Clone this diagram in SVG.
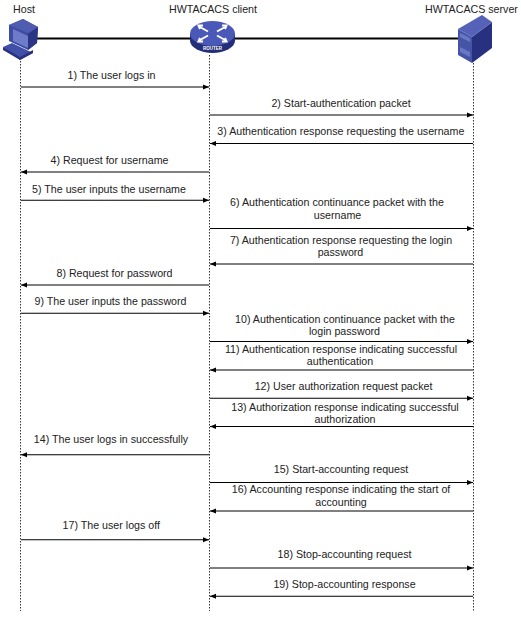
<svg xmlns="http://www.w3.org/2000/svg" width="521" height="617" viewBox="0 0 521 617">
<style>
text{font-family:"Liberation Sans",Arial,sans-serif;font-size:10.67px;fill:#222;text-anchor:middle}
.life{stroke:#333;stroke-width:1;stroke-dasharray:1.500 1.500;fill:none}
.msg{stroke:#000;stroke-width:1;fill:none;marker-end:url(#a)}
</style>
<defs><marker id="a" markerUnits="userSpaceOnUse" markerWidth="7" markerHeight="6" refX="6" refY="3" orient="auto"><path d="M0 .5L6 3L0 5.500Z" fill="#000"/></marker></defs>
<rect width="521" height="617" fill="#fff"/>
<g id="connectors">
<path d="M30 38.500H470" stroke="#000" stroke-width="2" fill="none"/>
<path class="life" d="M20.500 58V611M209.500 55V611M473.500 63V611"/>
<path class="msg" d="M21 87H209"/><path class="msg" d="M210 115H473"/><path class="msg" d="M473 143.500H210"/><path class="msg" d="M209 172H21"/><path class="msg" d="M21 200.250H209"/><path class="msg" d="M210 228.500H473"/><path class="msg" d="M473 264H210"/><path class="msg" d="M209 285H21"/><path class="msg" d="M21 313.250H209"/><path class="msg" d="M210 341.500H473"/><path class="msg" d="M473 370H210"/><path class="msg" d="M210 398.250H473"/><path class="msg" d="M473 426.500H210"/><path class="msg" d="M209 454.750H21"/><path class="msg" d="M210 482.500H473"/><path class="msg" d="M473 511H210"/><path class="msg" d="M21 539.750H209"/><path class="msg" d="M210 568H473"/><path class="msg" d="M473 596.250H210"/>
</g>
<g id="host"><text x="24" y="13">Host</text>
<path d="M9 25L23 19L38 27L37 43L28 50L9 41Z" fill="#3e4da3"/><path d="M9 25L23 19L38 27L28 33Z" fill="#4f5cb0"/><path d="M13 29L28 36V48L13 41Z" fill="#6d7cc8"/><path d="M28 34L38 27L37 43L28 50Z" fill="#2a3585"/><path d="M3 47L12 43L33 53L20 60Z" fill="#4050a8"/><path d="M3 47L20 57L33 50V53L20 60L3 50Z" fill="#28327f"/></g>
<g id="client"><text x="213" y="13">HWTACACS client</text>
<path d="M190 33.500V40.500A22.500 12.500 0 0 0 235 40.500V33.500Z" fill="#232d78"/><ellipse cx="212.500" cy="33.500" rx="22.500" ry="12.500" fill="#4a59b8"/><path d="M200 27L208 31.500M203 25.500H198.500L200 29M225 27L217 31.500M222 25.500H226.500L225 29M200 40L208 35.500M203 41.500H198.500L200 38M225 40L217 35.500M222 41.500H226.500L225 38" stroke="#fff" stroke-width="2" fill="none"/><text x="212.500" y="50" style="font-size:4.500px;fill:#fff;font-weight:bold">ROUTER</text></g>
<g id="server"><text x="471.500" y="13">HWTACACS server</text>
<path d="M472 37L492 22V48L472 63Z" fill="#27317f"/><path d="M458 29L482 15L492 22L472 37Z" fill="#5562b8"/><path d="M458 29L472 37V63L458 55Z" fill="#4654a8"/><path d="M460 33L470 38V42L460 37ZM460 47L470 52V57L460 52Z" fill="#6a78c4"/></g>
<g id="labels">
<text x="111.500" y="79">1) The user logs in</text>
<text x="341" y="107">2) Start-authentication packet</text>
<text x="340.800" y="135">3) Authentication response requesting the username</text>
<text x="109.500" y="164">4) Request for username</text>
<text x="109" y="193">5) The user inputs the username</text>
<text x="337" y="206">6) Authentication continuance packet with the</text><text x="337.500" y="219">username</text>
<text x="341" y="244">7) Authentication response requesting the login</text><text x="340.500" y="256">password</text>
<text x="114.500" y="277">8) Request for password</text>
<text x="110.500" y="305">9) The user inputs the password</text>
<text x="345" y="323">10) Authentication continuance packet with the</text><text x="344.500" y="335">login password</text>
<text x="341" y="353">11) Authentication response indicating successful</text><text x="340" y="365">authentication</text>
<text x="343.500" y="390">12) User authorization request packet</text>
<text x="345" y="411">13) Authorization response indicating successful</text><text x="345" y="423">authorization</text>
<text x="111" y="443">14) The user logs in successfully</text>
<text x="341" y="473">15) Start-accounting request</text>
<text x="341" y="493">16) Accounting response indicating the start of</text><text x="341" y="506">accounting</text>
<text x="111.300" y="529">17) The user logs off</text>
<text x="344.500" y="558">18) Stop-accounting request</text>
<text x="344.500" y="588">19) Stop-accounting response</text>
</g>
</svg>
